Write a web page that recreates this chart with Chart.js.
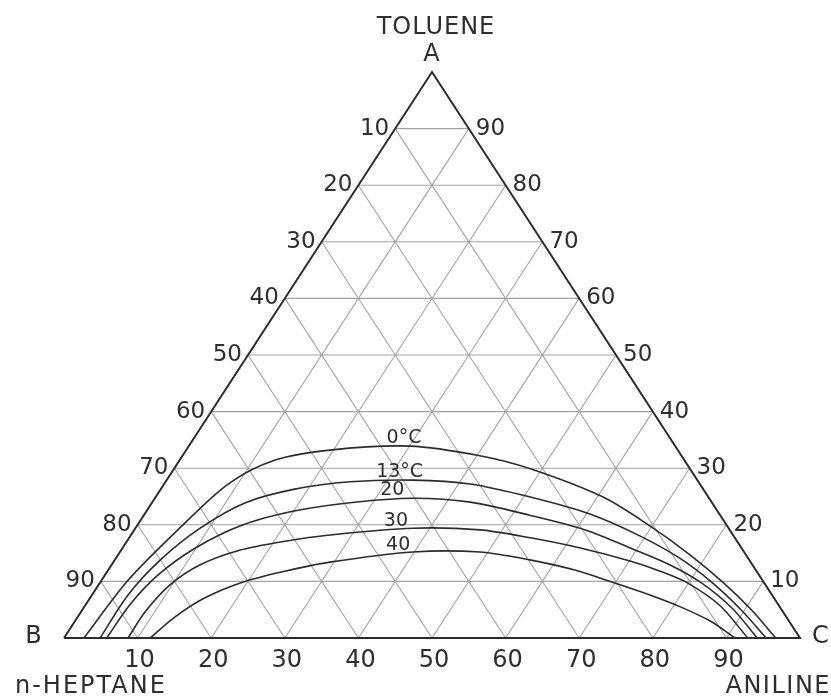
<!DOCTYPE html>
<html>
<head>
<meta charset="utf-8">
<script src="https://cdn.jsdelivr.net/npm/chart.js@4.4.1/dist/chart.umd.min.js"></script>
<style>
  html, body { margin:0; padding:0; background:#fff; }
  canvas { display:block; }
</style>
</head>
<body>
<canvas id="ternario" width="831" height="699"></canvas>
<script>
// marcas de los tres lados (%)
var marcas = [10,20,30,40,50,60,70,80,90];

// curvas binodales: % anilina y % tolueno
var anilina_0  = [2.7, 3.6, 6.0, 8.7, 12.9, 19.5, 30.1, 40.4, 48.4, 60.8, 69.7, 77.7, 84.8, 91.0, 96.7];
var tolueno_0  = [0, 10.2, 19.4, 27.2, 31.4, 33.2, 33.9, 32.2, 29.9, 24.9, 19.8, 14.7, 9.7, 4.9, 0];

var anilina_13 = [4.9, 4.9, 6.2, 8.8, 12.7, 18.2, 25.1, 33.5, 41.6, 50.9, 60.5, 69.3, 76.6, 83.3, 89.6, 95.4];
var tolueno_13 = [0, 7.6, 13.8, 19.4, 23.9, 26.3, 27.6, 27.9, 27.2, 24.9, 21.9, 18.0, 14.1, 9.7, 4.9, 0];

var anilina_20 = [5.8, 6.0, 7.2, 9.9, 14.0, 19.6, 26.9, 35.1, 43.2, 52.4, 61.3, 69.0, 75.9, 81.8, 88.1, 94.2];
var tolueno_20 = [0, 5.8, 11.1, 15.9, 19.8, 22.3, 23.9, 24.7, 24.0, 21.7, 19.1, 15.9, 12.9, 9.7, 5.3, 0];

var anilina_30 = [8.7, 8.7, 9.7, 12.0, 16.1, 21.5, 27.0, 37.7, 47.0, 54.5, 62.2, 70.1, 75.1, 79.9, 86.3, 92.9];
var tolueno_30 = [0, 4.6, 9.4, 12.9, 15.5, 17.1, 18.2, 19.4, 19.1, 17.7, 15.9, 13.6, 11.8, 9.7, 5.7, 0];

var anilina_40 = [11.7, 13.2, 15.6, 19.4, 24.1, 29.4, 39.8, 48.9, 56.4, 63.4, 70.0, 75.8, 81.0, 86.3, 91.2];
var tolueno_40 = [0, 3.7, 7.1, 9.9, 11.8, 13.4, 15.2, 15.2, 13.8, 12.0, 9.7, 7.6, 5.5, 3.0, 0];

var nombres_curvas = ["0°C", "13°C", "20", "30", "40"];

// paso de (anilina, tolueno) a coordenadas del plano
function punto(a, t){
  return {x: a + t/2, y: t};
}

function curva(anil, tol){
  var datos = [];
  for (var i = 0; i < anil.length; i++){
    datos.push(punto(anil[i], tol[i]));
  }
  return datos;
}

function rejilla(){
  var datos = [];
  for (let v of marcas){
    // tolueno constante
    datos.push(punto(0, v), punto(100 - v, v), {x: null, y: null});
    // anilina constante
    datos.push(punto(v, 0), punto(v, 100 - v), {x: null, y: null});
    // heptano constante
    datos.push(punto(100 - v, 0), punto(0, 100 - v), {x: null, y: null});
  }
  return datos;
}

var lados = [punto(0,0), punto(100,0), punto(0,100), punto(0,0)];

var curvas = [
  curva(anilina_0, tolueno_0),
  curva(anilina_13, tolueno_13),
  curva(anilina_20, tolueno_20),
  curva(anilina_30, tolueno_30),
  curva(anilina_40, tolueno_40)
];

var datasets = [];
for (var i = 0; i < curvas.length; i++){
  datasets.push({
    label: nombres_curvas[i],
    data: curvas[i],
    showLine: true,
    borderColor: "#2b2b2b",
    borderWidth: 1.6,
    pointRadius: 0,
    tension: 0.3,
    clip: false,
    order: 0
  });
}
datasets.push({
  label: "lados",
  data: lados,
  showLine: true,
  borderColor: "#2b2b2b",
  borderWidth: 2,
  pointRadius: 0,
  clip: false,
  order: 1
});
datasets.push({
  label: "rejilla",
  data: rejilla(),
  showLine: true,
  spanGaps: false,
  borderColor: "#a3a3a3",
  borderWidth: 1.1,
  pointRadius: 0,
  clip: false,
  order: 2
});

// posicion (en coordenadas del plano) de los rotulos de las curvas
var pos_rotulos = [[46.2, 35.3], [45.6, 29.3], [44.6, 26.1], [45.1, 20.7], [45.4, 16.4]];

var textos = {
  id: "textos",
  afterDatasetsDraw(chart){
    var ctx = chart.ctx;
    var sx = chart.scales.x, sy = chart.scales.y;
    function px(p){ return [sx.getPixelForValue(p.x), sy.getPixelForValue(p.y)]; }
    var fuente = "'DejaVu Sans', sans-serif";
    ctx.save();
    ctx.fillStyle = "#2e2e2e";
    ctx.textBaseline = "middle";

    // vertices
    var A = px(punto(0,100)), B = px(punto(0,0)), C = px(punto(100,0));
    ctx.font = "24px " + fuente;
    ctx.letterSpacing = "1px";
    ctx.textAlign = "center";
    ctx.fillText("TOLUENE", A[0] + 4, A[1] - 44);
    ctx.fillText("A", A[0], A[1] - 17);
    ctx.fillText("B", B[0] - 30, B[1] - 1);
    ctx.fillText("C", C[0] + 21, C[1] - 1);
    ctx.letterSpacing = "2px";
    ctx.textAlign = "left";
    ctx.fillText("n-HEPTANE", B[0] - 49, B[1] + 49);
    ctx.letterSpacing = "1.5px";
    ctx.textAlign = "right";
    ctx.fillText("ANILINE", C[0] + 31, C[1] + 49);
    ctx.letterSpacing = "0px";

    // marcas de los lados
    for (let v of marcas){
      ctx.font = "23px " + fuente;
      var izq = px(punto(0, 100 - v));
      ctx.textAlign = "right";
      ctx.fillText(String(v), izq[0] - 6, izq[1]);
      var der = px(punto(100 - v, v));
      ctx.textAlign = "left";
      ctx.fillText(String(v), der[0] + 7, der[1]);
      ctx.font = "24px " + fuente;
      var abajo = px(punto(v, 0));
      ctx.textAlign = "center";
      ctx.fillText(String(v), abajo[0] + 2, abajo[1] + 23);
    }

    // rotulos de las curvas
    ctx.font = "19px " + fuente;
    ctx.textAlign = "center";
    for (var i = 0; i < nombres_curvas.length; i++){
      var r = px({x: pos_rotulos[i][0], y: pos_rotulos[i][1]});
      ctx.fillText(nombres_curvas[i], r[0], r[1]);
    }
    ctx.restore();
  }
};

var grafico = new Chart(document.getElementById("ternario"), {
  type: "scatter",
  data: { datasets: datasets },
  options: {
    responsive: false,
    animation: false,
    devicePixelRatio: 1,
    layout: { padding: { left: 64, right: 31, top: 72, bottom: 61 } },
    scales: {
      x: { type: "linear", min: 0, max: 100, display: false },
      y: { type: "linear", min: 0, max: 100, display: false }
    },
    plugins: {
      legend: { display: false },
      tooltip: { enabled: false }
    }
  },
  plugins: [textos]
});
</script>
</body>
</html>
